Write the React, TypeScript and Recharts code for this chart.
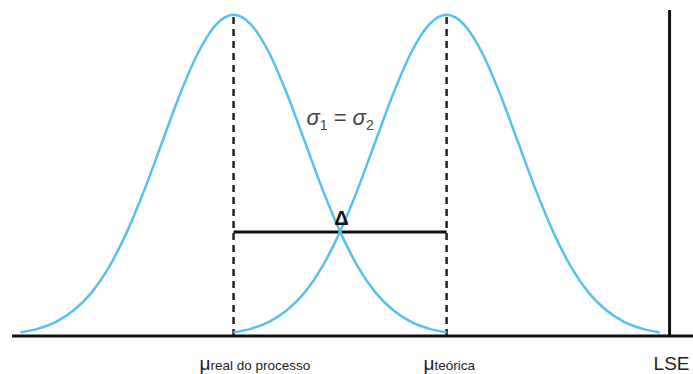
import { LineChart, Line, XAxis, YAxis, ReferenceLine, ReferenceDot } from "recharts";

document.body.style.margin = "0";

// x positions in units of sigma (real mean = 0, theoretical mean = 3)
const xValues = [
  -3, -2.75, -2.5, -2.25, -2, -1.75, -1.5, -1.25, -1, -0.75, -0.5, -0.25,
  0, 0.25, 0.5, 0.75, 1, 1.25, 1.5, 1.75, 2, 2.25, 2.5, 2.75,
  3, 3.25, 3.5, 3.75, 4, 4.25, 4.5, 4.75, 5, 5.25, 5.5, 5.75, 6,
];

// heights, peak = 1
const realCurve = [
  0.011, 0.023, 0.044, 0.08, 0.135, 0.216, 0.325, 0.458, 0.607, 0.755, 0.882, 0.969,
  1.0, 0.969, 0.882, 0.755, 0.607, 0.458, 0.325, 0.216, 0.135, 0.08, 0.044, 0.023,
  0.011, null, null, null, null, null, null, null, null, null, null, null, null,
];

const teoricaCurve = [
  null, null, null, null, null, null, null, null, null, null, null, null,
  0.011, 0.023, 0.044, 0.08, 0.135, 0.216, 0.325, 0.458, 0.607, 0.755, 0.882, 0.969,
  1.0, 0.969, 0.882, 0.755, 0.607, 0.458, 0.325, 0.216, 0.135, 0.08, 0.044, 0.023, 0.011,
];

const muReal = 0;
const muTeorica = 3;
const lse = 6.14;
const crossing = 0.324;

const tickValues = [muReal, muTeorica, lse];
const tickMain = ["μ", "μ", "LSE"];
const tickSub = ["real do processo", "teórica", ""];
const tickDx = [-34, -23, -16];

const CURVE = "#56C1EE";

const data = xValues.map((x, i) => ({ x, real: realCurve[i], teorica: teoricaCurve[i] }));

const Tick = (props: any) => {
  const { x, y, index } = props;
  const i = tickValues.indexOf(props.payload.value);
  const k = i >= 0 ? i : index;
  return (
    <text x={x + tickDx[k]} y={y + 26} textAnchor="start" fontFamily="Liberation Sans, Arial, sans-serif" fill="#222">
      <tspan fontSize={k === 2 ? 19 : 19}>{tickMain[k]}</tspan>
      <tspan fontSize={13.5}>{tickSub[k]}</tspan>
    </text>
  );
};

export default function App() {
  return (
    <LineChart width={693} height={374} data={data} margin={{ top: 2, right: 0, bottom: 8, left: 12 }}>
      <XAxis
        dataKey="x"
        type="number"
        domain={[-3.12, 6.47]}
        ticks={tickValues}
        tickLine={false}
        axisLine={{ stroke: "#111", strokeWidth: 3 }}
        tick={<Tick />}
        height={30}
        interval={0}
      />
      <YAxis hide domain={[0, 1.04]} />
      <ReferenceLine segment={[{ x: muReal, y: 0 }, { x: muReal, y: 1 }]} stroke="#222" strokeWidth={2.5} strokeDasharray="7 5" />
      <ReferenceLine segment={[{ x: muTeorica, y: 0 }, { x: muTeorica, y: 1 }]} stroke="#222" strokeWidth={2.5} strokeDasharray="7 5" />
      <ReferenceLine segment={[{ x: muReal, y: crossing }, { x: muTeorica, y: crossing }]} stroke="#111" strokeWidth={3} />
      <ReferenceLine segment={[{ x: lse, y: 0 }, { x: lse, y: 1.015 }]} stroke="#111" strokeWidth={3} />
      <Line dataKey="real" type="monotone" stroke={CURVE} strokeWidth={2.5} dot={false} isAnimationActive={false} />
      <Line dataKey="teorica" type="monotone" stroke={CURVE} strokeWidth={2.5} dot={false} isAnimationActive={false} />
      <ReferenceDot
        x={1.52}
        y={0.346}
        r={0}
        shape={(p: any) => (
          <text x={p.cx} y={p.cy} textAnchor="middle" fontFamily="Liberation Sans, Arial, sans-serif" fontSize={20} fontWeight="bold" fill="#111">
            Δ
          </text>
        )}
      />
      <ReferenceDot
        x={1.5}
        y={0.657}
        r={0}
        shape={(p: any) => (
          <text x={p.cx} y={p.cy} textAnchor="middle" fontFamily="Liberation Sans, Arial, sans-serif" fontSize={22} fill="#444">
            <tspan fontStyle="italic">σ</tspan>
            <tspan fontSize={14} dy={5}>1</tspan>
            <tspan dy={-5}> = </tspan>
            <tspan fontStyle="italic">σ</tspan>
            <tspan fontSize={14} dy={5}>2</tspan>
          </text>
        )}
      />
    </LineChart>
  );
}
